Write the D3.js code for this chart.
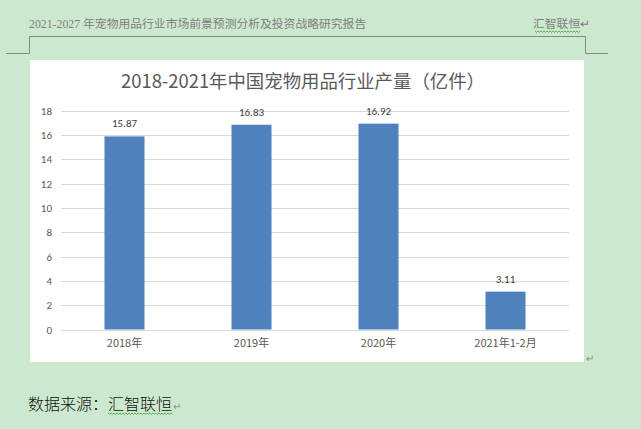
<!DOCTYPE html>
<html>
<head>
<meta charset="utf-8">
<script src="https://cdn.jsdelivr.net/npm/d3@7"></script>
<style>
  body { margin: 0; background: #cce8cf; }
  svg { display: block; }
</style>
</head>
<body>
<div id="vis"></div>
<script>
// chart data
const categories = ["2018年", "2019年", "2020年", "2021年1-2月"];
const values = [15.87, 16.83, 16.92, 3.11];
const yTicks = [0, 2, 4, 6, 8, 10, 12, 14, 16, 18];
const title = "2018-2021年中国宠物用品行业产量（亿件）";
const header = "2021-2027 年宠物用品行业市场前景预测分析及投资战略研究报告";
const headerRight = "汇智联恒";

const W = 641, H = 429;
const svg = d3.select("#vis").append("svg")
    .attr("width", W)
    .attr("height", H);

// page background
svg.append("rect").attr("width", W).attr("height", H).attr("fill", "#cce8cf");

// page header
svg.append("text")
    .attr("x", 29).attr("y", 28)
    .attr("font-family", "Liberation Serif, Noto Sans CJK SC, serif")
    .attr("font-size", 11.8)
    .attr("fill", "#808080")
    .text(header);
svg.append("text")
    .attr("x", 533).attr("y", 28)
    .attr("font-family", "Noto Sans CJK SC, sans-serif")
    .attr("font-size", 11.8)
    .attr("fill", "#808080")
    .text(headerRight + "↵");

// wavy underline helper (spell-check marks)
function wavy(x0, x1, yy) {
  let d = `M${x0},${yy}`;
  for (let xx = x0, k = 0; xx < x1; xx += 1.5, k++) {
    d += `L${xx + 1.5},${yy + (k % 2 ? 0 : 1.3)}`;
  }
  svg.append("path").attr("d", d).attr("fill", "none")
      .attr("stroke", "#3aa03a").attr("stroke-width", 0.8);
}
wavy(535, 579, 31);

const lineColor = "#7f8c7f";
svg.append("path")
    .attr("d", "M6,53.5H29.5V36.5H585.5V53.5H608")
    .attr("fill", "none")
    .attr("stroke", lineColor)
    .attr("stroke-width", 1);

// chart box
svg.append("rect")
    .attr("x", 30).attr("y", 60)
    .attr("width", 554).attr("height", 302)
    .attr("fill", "#fff");

svg.append("text")
    .attr("x", 303).attr("y", 88)
    .attr("text-anchor", "middle")
    .attr("font-family", "Noto Sans CJK SC, sans-serif")
    .attr("font-size", 18.4)
    .attr("fill", "#595959")
    .text(title);

const plot = { left: 61, right: 569, top: 110.5, bottom: 329.5 };

const x = d3.scaleBand()
    .domain(categories)
    .range([plot.left, plot.right])
    .paddingInner(0.685)
    .paddingOuter(0.3425);

const y = d3.scaleLinear()
    .domain([0, 18])
    .range([plot.bottom, plot.top]);

// gridlines
svg.append("g")
    .selectAll("line")
    .data(yTicks)
    .join("line")
    .attr("x1", plot.left).attr("x2", plot.right)
    .attr("y1", d => Math.round(y(d)) + 0.5)
    .attr("y2", d => Math.round(y(d)) + 0.5)
    .attr("stroke", "#d9d9d9")
    .attr("stroke-width", 1);

// y axis labels
const yAxis = svg.append("g")
    .attr("transform", `translate(${plot.left},0)`)
    .call(d3.axisLeft(y).tickValues(yTicks).tickSize(0).tickPadding(9));
yAxis.select(".domain").remove();
yAxis.selectAll("text")
    .attr("font-family", "Calibri, Carlito, Liberation Sans, sans-serif")
    .attr("font-size", 11)
    .attr("fill", "#595959");

// x axis labels
const xAxis = svg.append("g")
    .attr("transform", `translate(0,${plot.bottom})`)
    .call(d3.axisBottom(x).tickSize(0).tickPadding(10));
xAxis.select(".domain").remove();
xAxis.selectAll("text")
    .attr("font-family", "Noto Sans CJK SC, sans-serif")
    .attr("font-size", 11)
    .attr("fill", "#595959");

// bars
svg.append("g")
    .selectAll("rect")
    .data(values)
    .join("rect")
    .attr("x", (d, i) => x(categories[i]))
    .attr("y", d => y(d))
    .attr("width", x.bandwidth())
    .attr("height", d => y(0) - y(d))
    .attr("fill", "#4f81bd");

// value labels
svg.append("g")
    .selectAll("text")
    .data(values)
    .join("text")
    .attr("x", (d, i) => x(categories[i]) + x.bandwidth() / 2)
    .attr("y", d => y(d) - 9)
    .attr("text-anchor", "middle")
    .attr("font-family", "Calibri, Carlito, Liberation Sans, sans-serif")
    .attr("font-size", 11)
    .attr("fill", "#404040")
    .text(d => d.toFixed(2));

// return mark after chart
svg.append("text")
    .attr("x", 586).attr("y", 362)
    .attr("font-size", 10)
    .attr("fill", "#888")
    .text("↵");

// source line
svg.append("text")
    .attr("x", 28).attr("y", 410)
    .attr("font-family", "Noto Sans CJK SC, sans-serif")
    .attr("font-weight", 300)
    .attr("font-size", 16)
    .attr("fill", "#111")
    .text("数据来源：汇智联恒");
wavy(108, 172, 413);
svg.append("text")
    .attr("x", 173).attr("y", 410)
    .attr("font-size", 10)
    .attr("fill", "#888")
    .text("↵");
</script>
</body>
</html>
